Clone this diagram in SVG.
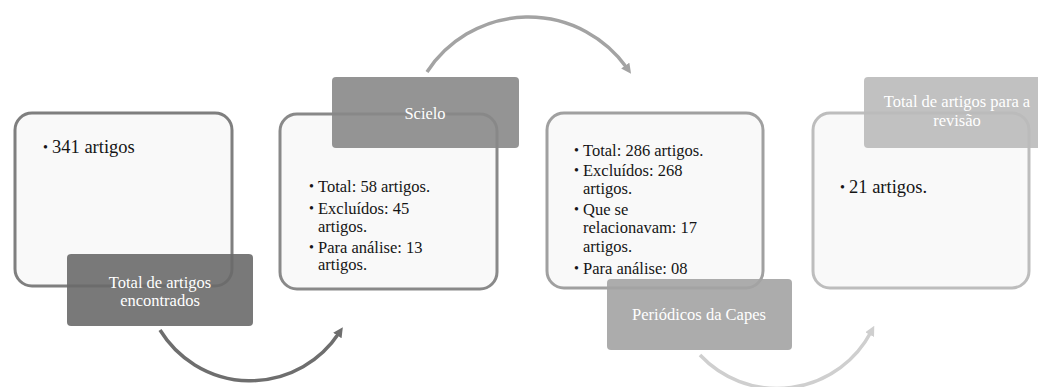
<svg xmlns="http://www.w3.org/2000/svg" width="1038" height="387" viewBox="0 0 1038 387">
  <style>
    .box { fill: #f9f9f9; stroke-width: 3; }
    .lbl { fill-opacity: 0.9; }
    .lt { font-family: "Liberation Serif", "Times New Roman", serif; font-size: 16.5px; fill: #ffffff; text-anchor: middle; }
    .bt { font-family: "Liberation Serif", "Times New Roman", serif; font-size: 16.5px; fill: #151515; }
    .bt2 { font-family: "Liberation Serif", "Times New Roman", serif; font-size: 18.5px; fill: #151515; }
    .bl { font-family: "Liberation Serif", "Times New Roman", serif; font-size: 14px; fill: #151515; }
    .arc { fill: none; stroke-width: 3.5; }
  </style>
  <defs>
    <marker id="ah1" viewBox="0 0 10 10" refX="3" refY="5" markerWidth="10" markerHeight="10" markerUnits="userSpaceOnUse" orient="auto">
      <path d="M0,0 L10,5 L0,10 z" fill="#6e6e6e"/>
    </marker>
    <marker id="ah2" viewBox="0 0 10 10" refX="3" refY="5" markerWidth="10" markerHeight="10" markerUnits="userSpaceOnUse" orient="auto">
      <path d="M0,0 L10,5 L0,10 z" fill="#a3a3a3"/>
    </marker>
    <marker id="ah3" viewBox="0 0 10 10" refX="3" refY="5" markerWidth="10" markerHeight="10" markerUnits="userSpaceOnUse" orient="auto">
      <path d="M0,0 L10,5 L0,10 z" fill="#cfcfcf"/>
    </marker>
  </defs>
  <rect width="1038" height="387" fill="#ffffff"/>

  <g id="connectors">
    <path class="arc" stroke="#6e6e6e" d="M160,330 A106,106 0 0 0 339,333" marker-end="url(#ah1)"/>
    <path class="arc" stroke="#a3a3a3" d="M427,72 A121,121 0 0 1 627,68" marker-end="url(#ah2)"/>
    <path class="arc" stroke="#cfcfcf" d="M700,355 A106,106 0 0 0 871,332" marker-end="url(#ah3)"/>
  </g>

  <g id="node1">
    <rect class="box" x="15" y="113" width="217" height="173" rx="17" stroke="#7f7f7f"/>
    <text class="bl" x="43" y="152">•</text>
    <text class="bt2" x="52" y="153">341 artigos</text>
    <rect class="lbl" x="67" y="254" width="186" height="72" rx="4" fill="#6a6a6a"/>
    <text class="lt" x="160" y="288">Total de artigos</text>
    <text class="lt" x="160" y="306">encontrados</text>
  </g>

  <g id="node2">
    <rect class="box" x="280" y="114" width="217" height="175" rx="17" stroke="#898989"/>
    <text class="bl" x="309" y="191">•</text>
    <text class="bt" x="318" y="192">Total: 58 artigos.</text>
    <text class="bl" x="309" y="213">•</text>
    <text class="bt" x="318" y="214">Excluídos: 45</text>
    <text class="bt" x="318" y="232">artigos.</text>
    <text class="bl" x="309" y="252">•</text>
    <text class="bt" x="318" y="253">Para análise: 13</text>
    <text class="bt" x="318" y="270">artigos.</text>
    <rect class="lbl" x="332" y="77" width="187" height="71" rx="4" fill="#888888"/>
    <text class="lt" x="425" y="119">Scielo</text>
  </g>

  <g id="node3">
    <rect class="box" x="547" y="113" width="216" height="175" rx="17" stroke="#a0a0a0"/>
    <text class="bl" x="574" y="155">•</text>
    <text class="bt" x="583" y="156">Total: 286 artigos.</text>
    <text class="bl" x="574" y="175">•</text>
    <text class="bt" x="583" y="176">Excluídos: 268</text>
    <text class="bt" x="583" y="194">artigos.</text>
    <text class="bl" x="574" y="214">•</text>
    <text class="bt" x="583" y="215">Que se</text>
    <text class="bt" x="583" y="233">relacionavam: 17</text>
    <text class="bt" x="583" y="252">artigos.</text>
    <text class="bl" x="574" y="273">•</text>
    <text class="bt" x="583" y="274">Para análise: 08</text>
    <rect class="lbl" x="607" y="279" width="185" height="71" rx="4" fill="#a3a3a3"/>
    <text class="lt" x="699" y="320">Periódicos da Capes</text>
  </g>

  <g id="node4">
    <rect class="box" x="813" y="113" width="216" height="175" rx="17" stroke="#bdbdbd"/>
    <text class="bl" x="840" y="192">•</text>
    <text class="bt2" x="849" y="193">21 artigos.</text>
    <rect class="lbl" x="864" y="77" width="186" height="71" rx="4" fill="#bababa"/>
    <text class="lt" x="957" y="107">Total de artigos para a</text>
    <text class="lt" x="957" y="126">revisão</text>
  </g>
</svg>
